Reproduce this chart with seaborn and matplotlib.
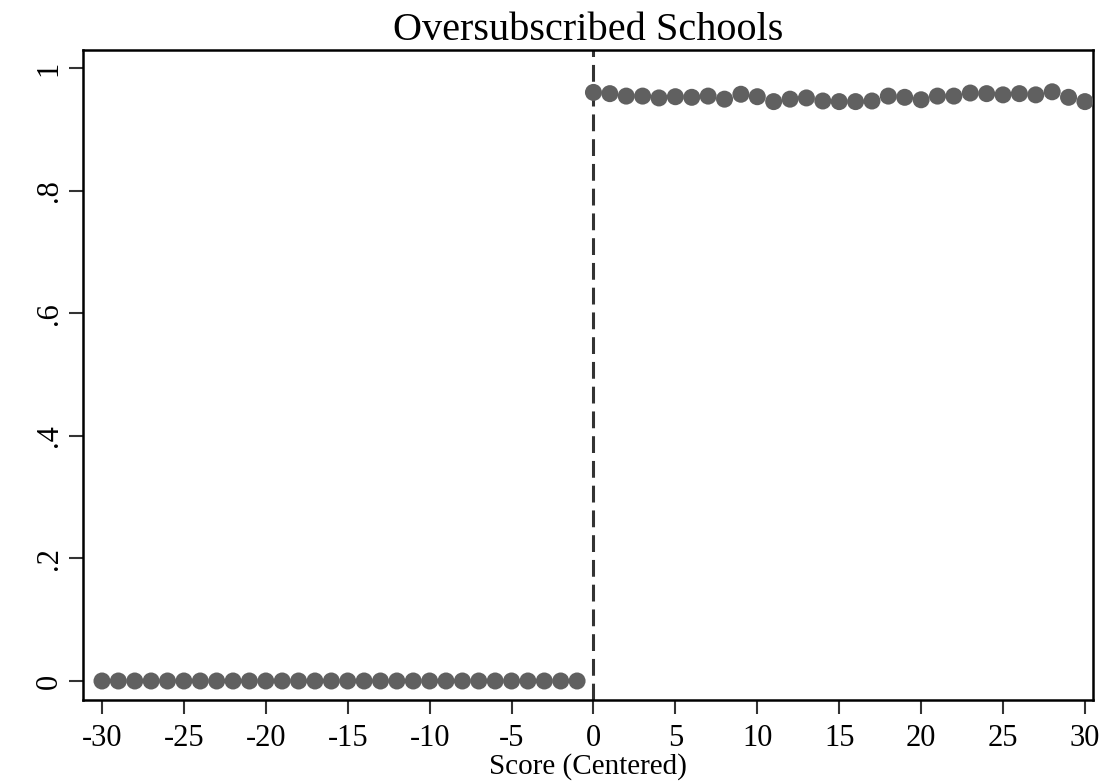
import numpy as np
import pandas as pd
import matplotlib
matplotlib.use("Agg")
import matplotlib.pyplot as plt
import seaborn as sns

# Binned share by centered score
score_left = list(range(-30, 0))
share_left = [0.0] * 30
score_right = list(range(0, 31))
share_right = [0.960, 0.958, 0.954, 0.954, 0.951, 0.953, 0.952, 0.954, 0.949, 0.957,
               0.953, 0.945, 0.949, 0.951, 0.946, 0.945, 0.945, 0.946, 0.954, 0.952,
               0.948, 0.954, 0.954, 0.959, 0.958, 0.956, 0.958, 0.956, 0.961, 0.952,
               0.945]

x_ticks = list(range(-30, 31, 5))
y_ticks = [0, 0.2, 0.4, 0.6, 0.8, 1.0]
y_tick_labels = ["0", ".2", ".4", ".6", ".8", "1"]

df = pd.DataFrame({
    "score": score_left + score_right,
    "share": share_left + share_right,
})

sns.set_theme(style="white")
plt.rcParams["font.family"] = ["Liberation Serif", "DejaVu Serif"]
plt.rcParams["text.color"] = "black"
plt.rcParams["xtick.color"] = "black"
plt.rcParams["ytick.color"] = "black"
plt.rcParams["axes.labelcolor"] = "black"

fig = plt.figure(figsize=(11.05, 7.83), dpi=100)
ax = fig.add_axes([0.0751, 0.106, 0.914, 0.830])

ax.axvline(0, color="#333333", linestyle=(0, (5.5, 2.6)), linewidth=2.2, zorder=1)
sns.scatterplot(data=df, x="score", y="share", ax=ax, color="#606060",
                s=150, edgecolor="none", zorder=3)

ax.set_xlim(-31.16, 30.49)
ax.set_ylim(-0.031, 1.029)
ax.set_xticks(x_ticks)
ax.set_xticklabels([str(t) for t in x_ticks], fontsize=22)
ax.set_yticks(y_ticks)
ax.set_yticklabels(y_tick_labels, fontsize=22, rotation=90, va="center")
ax.tick_params(axis="both", direction="out", length=10, width=1.5, color="#333333",
               bottom=True, left=True)
ax.tick_params(axis="x", pad=7)
ax.tick_params(axis="y", pad=4)
for sp in ax.spines.values():
    sp.set_linewidth(1.8)
    sp.set_color("black")

ax.set_xlabel("Score (Centered)", fontsize=21, labelpad=0)
ax.set_ylabel("")
ax.set_title("Oversubscribed Schools", fontsize=29, pad=7)

fig.savefig("out.png", dpi=100, facecolor="white")
